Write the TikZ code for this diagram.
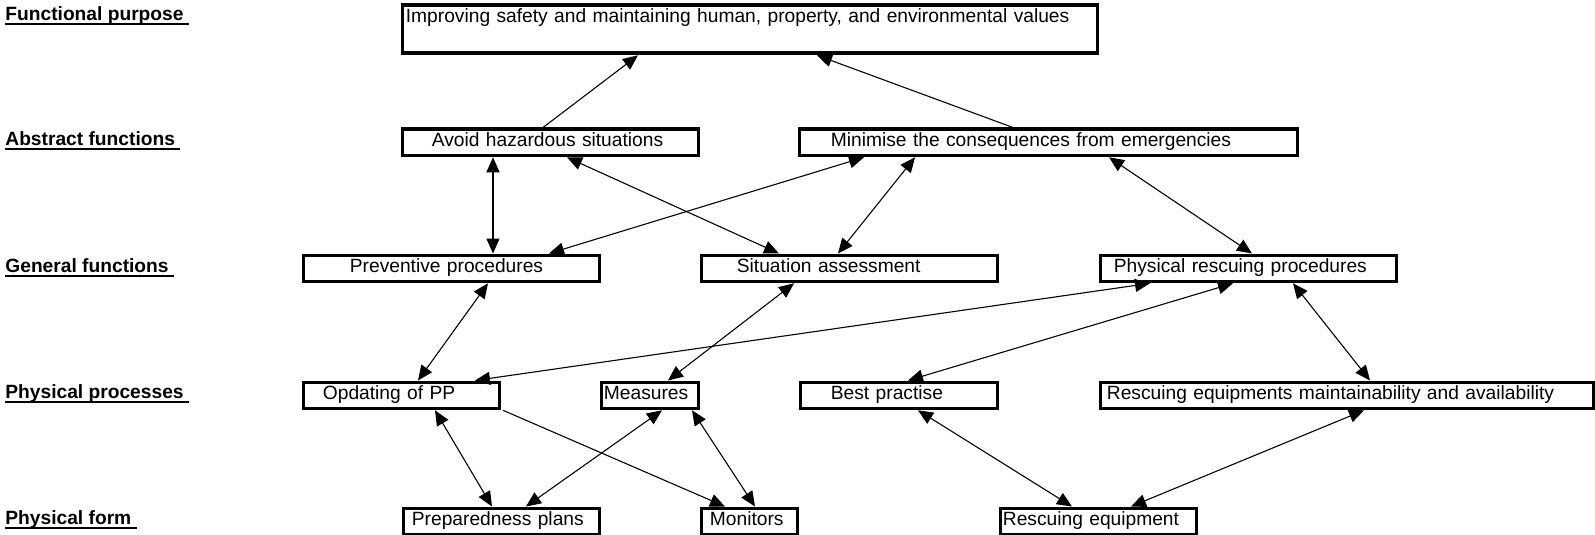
\documentclass[tikz,border=0pt]{standalone}
\usepackage{fontspec}
\setmainfont{Liberation Sans}
\usetikzlibrary{arrows.meta,calc}
\newsavebox{\lvlbox}
\newcommand{\lvlul}[1]{\sbox{\lvlbox}{#1}\rlap{\rule[-2.25pt]{\wd\lvlbox}{1pt}}\usebox{\lvlbox}}

\begin{document}
\begin{tikzpicture}[x=0.5pt,y=-0.5pt,
		>={Triangle[length=7.5pt,width=6.5pt]},
		every node/.style={font=\fontsize{9.6}{11.5}\selectfont},
		box/.style={draw,line width=1.9pt,anchor=north west,align=left,inner ysep=0pt,text height=8.75pt,text depth=4.25pt},
		lvl/.style={anchor=base west,inner sep=0pt,font=\fontsize{9.6}{11.5}\selectfont\bfseries},
		link/.style={line width=0.55pt,<->},
		uplink/.style={line width=0.55pt,->}]
		\useasboundingbox (0,0) rectangle (1595,535);
		% level names
		\node[lvl] (fpl) at (5,21) {\lvlul{Functional purpose\ }};
		\node[lvl] (afl) at (5,146) {\lvlul{Abstract functions\ }};
		\node[lvl] (gfl) at (5,272) {\lvlul{General functions\ }};
		\node[lvl] (ppl) at (5,398) {\lvlul{Physical processes\ }};
		\node[lvl] (pfl) at (5,524) {\lvlul{Physical form\ }};
		% boxes
		\node[box,text height=8.5pt,text depth=15.5pt,text width=344pt,inner xsep=1.75pt] (fp) at (400.5,3.5) {Improving safety and maintaining human, property, and environmental values};
		\node[box,text width=118.5pt,inner xsep=14.75pt] (avoid) at (400.5,127.5) {Avoid hazardous situations};
		\node[box,text width=217.5pt,inner xsep=15.75pt] (minimise) at (797.5,127.5) {Minimise the consequences from emergencies};
		\node[box,text width=101.5pt,inner xsep=23.25pt] (prev) at (301.5,253.5) {Preventive procedures};
		\node[box,text width=112.5pt,inner xsep=17.75pt] (sit) at (699.5,253.5) {Situation assessment};
		\node[box,text width=134.5pt,inner xsep=6.75pt] (physr) at (1098.5,253.5) {Physical rescuing procedures};
		\node[box,text width=78.5pt,inner xsep=9.75pt] (opd) at (301.5,380.5) {Opdating of PP};
		\node[box,text width=46pt,inner xsep=1.25pt] (meas) at (599.5,380.5) {Measures};
		\node[box,text width=68pt,inner xsep=15.25pt] (best) at (798.5,380.5) {Best practise};
		\node[box,text width=240pt,inner xsep=3.25pt] (rmaint) at (1098.5,380.5) {Rescuing equipments maintainability and availability};
		\node[box,text width=89.5pt,inner xsep=4.25pt] (prep) at (401.5,506.5) {Preparedness plans};
		\node[box,text width=39.5pt,inner xsep=4.25pt] (mon) at (699.5,506.5) {Monitors};
		\node[box,text width=95.5pt,inner xsep=1.25pt] (requip) at (998.5,506.5) {Rescuing equipment};
		% connectors
		\draw[uplink] ($(avoid.north west)+(142.5,0)$) -- ($(fp.south west)+(237.5,0)$);
		\draw[uplink] ($(minimise.north west)+(215.5,0)$) -- ($(fp.south west)+(416.5,0)$);
		\draw[link] ($(avoid.south west)+(92.5,0)$) -- ($(prev.north west)+(191.5,0)$);
		\draw[link] ($(avoid.south west)+(166.5,0)$) -- ($(sit.north west)+(79.5,0)$);
		\draw[link] ($(minimise.south west)+(66.5,0)$) -- ($(prev.north west)+(247.5,0)$);
		\draw[link] ($(minimise.south west)+(117.5,0)$) -- ($(sit.north west)+(138.5,0)$);
		\draw[link] ($(minimise.south west)+(311.5,0)$) -- ($(physr.north west)+(153.5,0)$);
		\draw[link] ($(prev.south west)+(186.5,0)$) -- ($(opd.north west)+(116.5,0)$);
		\draw[link] ($(physr.south west)+(51.5,0)$) -- ($(opd.north west)+(173.5,0)$);
		\draw[link] ($(sit.south west)+(94.5,0)$) -- ($(meas.north west)+(68.5,0)$);
		\draw[link] ($(physr.south west)+(134.5,0)$) -- ($(best.north west)+(109.5,0)$);
		\draw[link] ($(physr.south west)+(194.5,0)$) -- ($(rmaint.north west)+(271.5,0)$);
		\draw[link] ($(opd.south west)+(133.5,0)$) -- ($(prep.north west)+(90.5,0)$);
		\draw[uplink] ($(opd.south west)+(201.5,0)$) -- ($(mon.north west)+(25.5,0)$);
		\draw[link] ($(meas.south west)+(62.5,0)$) -- ($(prep.north west)+(124.5,0)$);
		\draw[link] ($(meas.south west)+(92.5,0)$) -- ($(mon.north west)+(55.5,0)$);
		\draw[link] ($(best.south west)+(119.5,0)$) -- ($(requip.north west)+(73.5,0)$);
		\draw[link] ($(rmaint.south west)+(265.5,0)$) -- ($(requip.north west)+(132.5,0)$);
\end{tikzpicture}
\end{document}
